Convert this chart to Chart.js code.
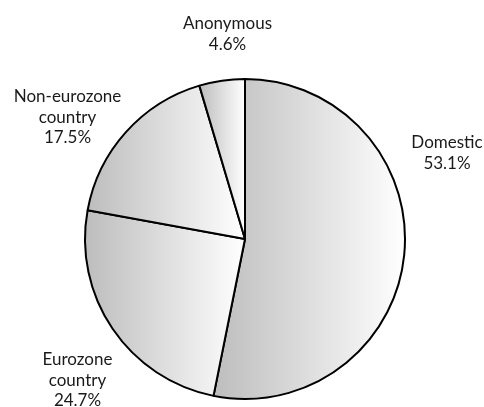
<!DOCTYPE html>
<html>
<head>
<meta charset="utf-8">
<script src="https://cdn.jsdelivr.net/npm/chart.js@4/dist/chart.umd.min.js"></script>
<style>
    html, body { margin: 0; padding: 0; background: #fff; }
    #wrap { width: 484px; height: 407px; }
</style>
</head>
<body>
<div id="wrap"><canvas id="share-chart"></canvas></div>
<script>
const categories = ['Domestic', 'Eurozone country', 'Non-eurozone country', 'Anonymous']
const shares = [53.1, 24.7, 17.5, 4.6]
// how each label is broken into lines
const labelLines = [['Domestic'], ['Eurozone', 'country'], ['Non-eurozone', 'country'], ['Anonymous']]
// label placement: offset of the first baseline from the pie centre (px)
const labelOffsets = [[202, -91], [-167.5, 126], [-177.5, -137], [-17.5, -210]]

const RADIUS = 160

// x extent of a slice, so the grey->white fade spans each slice on its own
function sliceExtent(index, cx) {
    const total = shares.reduce((a, b) => a + b, 0)
    let start = -Math.PI / 2
    for (let i = 0; i < index; i++) start += shares[i] / total * Math.PI * 2
    const end = start + shares[index] / total * Math.PI * 2
    let xs = [cx, cx + RADIUS * Math.cos(start), cx + RADIUS * Math.cos(end)]
    // check if the slice passes the far left / far right of the circle
    for (let k = -2; k <= 4; k++) {
        const a = k * Math.PI
        if (a > start && a < end) xs.push(cx + RADIUS * Math.cos(a))
    }
    return [Math.min(...xs), Math.max(...xs)]
}

function sliceFill(context) {
    const chart = context.chart
    const area = chart.chartArea
    if (!area) return '#dddddd'
    const cx = (area.left + area.right) / 2
    const [x0, x1] = sliceExtent(context.dataIndex, cx)
    const grad = chart.ctx.createLinearGradient(x0, 0, x1, 0)
    grad.addColorStop(0, '#bdbdbd')
    grad.addColorStop(1, '#ffffff')
    return grad
}

const labelPlugin = {
    id: 'sliceLabels',
    afterDraw(chart) {
        const area = chart.chartArea
        const cx = (area.left + area.right) / 2
        const cy = (area.top + area.bottom) / 2
        const ctx = chart.ctx
        ctx.save()
        ctx.font = '17px Lato'
        ctx.fillStyle = '#1a1a1a'
        ctx.textAlign = 'center'
        ctx.textBaseline = 'alphabetic'
        categories.forEach((cat, i) => {
            const lines = [...labelLines[i], shares[i].toFixed(1) + '%']
            const [dx, dy] = labelOffsets[i]
            lines.forEach((line, j) => {
                ctx.fillText(line, cx + dx, cy + dy + j * 20.7)
            })
        })
        ctx.restore()
    }
}

new Chart(document.getElementById('share-chart'), {
    type: 'pie',
    data: {
        labels: categories,
        datasets: [{
            data: shares,
            backgroundColor: sliceFill,
            borderColor: '#000000',
            borderWidth: 2
        }]
    },
    options: {
        responsive: true,
        maintainAspectRatio: false,
        animation: false,
        radius: RADIUS,
        layout: {
            padding: { left: 6, right: 0, top: 71, bottom: 0 } // puts the centre at (245, 239)
        },
        plugins: {
            legend: { display: false },
            tooltip: { enabled: false }
        }
    },
    plugins: [labelPlugin]
})
</script>
</body>
</html>
